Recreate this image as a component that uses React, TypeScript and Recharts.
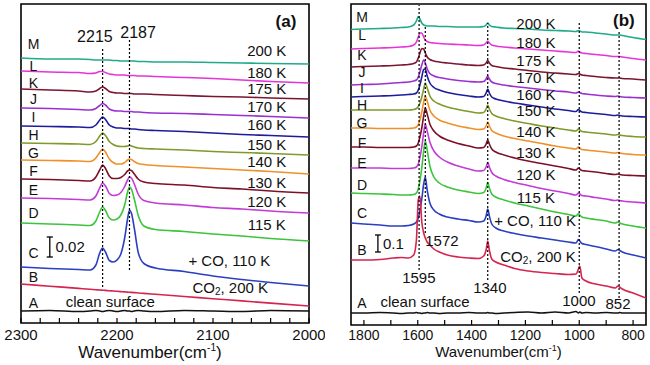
import {
  LineChart,
  Line,
  XAxis,
  YAxis,
  ReferenceArea,
  ReferenceLine,
  ReferenceDot,
} from "recharts";

const FONT = '"Liberation Sans", Arial, sans-serif';

// wavenumber grids (cm-1), left to right as drawn
const wnA = [2300, 2270, 2240, 2228, 2222, 2218, 2215, 2212, 2208, 2204, 2200, 2196, 2192, 2189, 2187, 2185, 2182, 2178, 2172, 2160, 2130, 2100, 2070, 2040, 2000];
const wnB = [1848, 1800, 1740, 1690, 1660, 1635, 1615, 1605, 1598, 1592, 1585, 1578, 1572, 1565, 1555, 1540, 1520, 1490, 1450, 1410, 1375, 1355, 1346, 1340, 1334, 1325, 1310, 1280, 1240, 1190, 1140, 1090, 1040, 1012, 1003, 998, 990, 975, 940, 900, 866, 856, 850, 840, 800, 752];

// panel (a): absorbance incl. stacking offset, in mAbs
const aM = [265, 264, 264, 263.5, 263, 263, 263, 263, 263, 262.5, 262.5, 262, 262, 262, 262, 262, 262, 261.5, 261.5, 261, 261, 260.5, 260, 259.5, 259];
const aL = [252, 251, 250.5, 249.5, 250, 251.5, 251.5, 250.5, 249, 248.5, 248, 248, 248, 247.5, 247.5, 247.5, 247.5, 247, 247, 246.5, 245.5, 244.5, 243, 241.5, 240];
const aK = [234, 233, 232, 231, 232, 234.5, 236, 234.5, 231.5, 230.5, 230, 230, 229.5, 229.5, 229.5, 229.5, 229, 229, 229, 228.5, 227.5, 226.5, 226, 225, 224];
const aJ = [215, 214.5, 213.5, 213, 214.5, 217.5, 219.5, 218, 214, 212.5, 212, 212, 211.5, 211.5, 211.5, 211.5, 211, 211, 210.5, 210, 209.5, 208.5, 207.5, 206.5, 205];
const aI = [197, 196.5, 196, 195.5, 198, 203, 206, 203.5, 198, 196, 195, 195, 194.5, 194.5, 194.5, 194, 194, 193.5, 193, 192.5, 191.5, 190, 188.5, 187.5, 186];
const aH = [180, 179.5, 179, 178.5, 181.5, 187, 190, 187.5, 181.5, 178.5, 177, 176.5, 176.5, 177, 177.5, 177, 176, 175, 174.5, 174, 173, 171.5, 170.5, 169.5, 168];
const aG = [163, 162.5, 162, 161.5, 165, 170.5, 174, 171, 164, 160.5, 159, 159, 160.5, 163, 164, 163.5, 161.5, 159.5, 158.5, 157.5, 156, 154.5, 153, 151.5, 149];
const aF = [144, 143.5, 142.5, 142, 146, 153, 158, 154.5, 147, 144.5, 144.5, 145.5, 148.5, 152, 153, 152.5, 149, 144, 141, 139.5, 138, 135.5, 134, 132, 130];
const aE = [125, 124.5, 123.5, 123, 127, 135, 140, 137, 129.5, 127.5, 128, 130.5, 136.5, 143, 146, 145, 139, 129, 122.5, 120, 118, 115.5, 114, 112, 110];
const aD = [100, 99, 98, 97.5, 102, 111, 116, 112.5, 105, 103, 104, 108, 118, 131, 136, 134, 124, 108, 97, 93.5, 91.5, 89, 87, 84.5, 82];
const aC = [56, 54.5, 53.5, 53, 58, 70, 75, 71, 62.5, 61, 63, 69, 85, 104, 113, 110, 95, 71, 59.5, 55, 51.5, 47, 43.5, 40.5, 37];
const aB = [39, 36.8, 34.6, 33.7, 33.3, 33, 32.8, 32.6, 32.2, 32, 31.7, 31.4, 31.1, 30.9, 30.7, 30.6, 30.4, 30, 29.6, 28.7, 26.5, 24.3, 22.1, 19.9, 17];
const aA = [12, 12.5, 11.5, 12, 12.5, 12, 11.5, 12, 12.5, 12, 11.5, 12, 12.5, 12, 12, 11.5, 12, 12.5, 12, 11.5, 12.5, 12, 11.5, 12.5, 12];

// panel (b): absorbance incl. offset, 1 unit = 0.1/17
const bM = [295.5, 296, 296.5, 297, 297.5, 298, 300, 304, 308.5, 306, 302, 300, 299.5, 299, 299, 299, 298.5, 298.5, 298, 298, 298, 298.5, 300, 302, 300, 298.5, 298, 297, 296.5, 296, 295, 294.5, 294, 293.5, 294.5, 294, 293, 293, 292, 291, 290, 290, 290, 289.5, 287.5, 285.5];
const bL = [276, 276.5, 277, 277.5, 278, 278.5, 280, 283, 288, 292, 292, 288, 285, 283.5, 282.5, 282, 281.5, 281, 280.5, 280, 279.5, 280, 282, 284, 282, 280, 279, 278, 277, 276, 275, 274, 273, 272.5, 274, 273, 272, 271.5, 270.5, 269.5, 268.5, 268.5, 268.5, 268, 266.5, 265];
const bK = [258, 258.5, 259, 259.5, 260, 260.5, 261.5, 263, 267, 272, 276.5, 276, 272, 268, 265.5, 264, 263, 262, 261, 260, 259.5, 260, 262, 264.5, 262, 259.5, 258.5, 257, 256, 254.5, 253, 252, 251, 250.5, 251.5, 251, 250, 249.5, 248.5, 247.5, 247, 247, 247, 246.5, 246, 245];
const bJ = [240, 240.5, 241, 242, 242.5, 243, 244, 245, 248, 253, 260, 265, 262, 256, 251.5, 249, 247.5, 246, 244.5, 243.5, 243, 243.5, 246, 249, 246, 243, 241.5, 240, 238.5, 237, 235.5, 234, 233, 232, 233, 232.5, 231.5, 231, 230, 229, 228.5, 229, 228.5, 228, 227.5, 227];
const bI = [228, 228.5, 229, 229.5, 230, 230.5, 231, 232, 235, 240, 248, 255.5, 256, 249, 242, 237.5, 235, 232.5, 230.5, 229, 228, 228.5, 232, 236, 232, 228, 226, 224, 222, 220, 218, 216, 214.5, 213.5, 215.5, 214.5, 213, 212.5, 211.5, 210.5, 209.5, 210, 209.5, 209, 208.5, 208];
const bH = [215, 215, 215, 215, 215, 215, 215.5, 216.5, 218.5, 222, 228, 236, 242, 237, 229, 224, 221, 218, 215.5, 213.5, 212, 212.5, 216, 220, 216, 211.5, 209, 206.5, 204, 201.5, 199, 197, 195, 194, 196, 195, 193.5, 193, 192, 191, 190, 190.5, 190, 189.5, 188.5, 188];
const bG = [197, 197, 196.5, 196.5, 196.5, 196.5, 197, 198, 200.5, 205, 213, 223, 229, 224, 215, 209, 205, 202, 199, 197, 195.5, 196, 199, 203, 199, 194.5, 192, 189, 186.5, 184, 181.5, 179, 177, 176, 178, 177, 175.5, 175, 174, 173, 172, 172.5, 172, 171.5, 170.5, 170];
const bF = [178, 178, 177.5, 177.5, 177.5, 177.5, 178, 179, 182, 188, 197, 209, 217, 211, 201, 194, 189, 185, 181.5, 179, 177, 177.5, 181, 185, 181, 176, 173, 170, 167, 164, 161.5, 159, 156.5, 155, 157, 156, 154.5, 154, 153, 151.5, 150.5, 151, 150.5, 150, 149.5, 149];
const bE = [157, 157, 157, 156.5, 156.5, 156.5, 157, 158, 161, 167.5, 178, 192, 201, 194, 183, 174, 168, 163, 159, 156, 154, 154.5, 158, 162.5, 158, 152.5, 149, 145.5, 142.5, 139.5, 136.5, 134, 131.5, 130, 132, 131, 129.5, 129, 127.5, 126, 124.5, 125, 124.5, 124, 123, 122];
const bD = [132, 131.5, 131, 130.5, 130, 130, 130.5, 132, 136, 144, 157, 174, 184, 175, 159, 148, 142, 138, 135, 133, 131.5, 132.5, 137, 142.5, 137, 131, 128, 125, 122, 119, 116, 113, 110.5, 109, 111.5, 110, 108, 107, 105.5, 104, 102, 103, 102, 101, 99, 97];
const bC = [102, 101, 100, 99, 99, 99.5, 101, 103, 107, 114, 126, 141, 148, 135, 122, 115, 111, 108, 106, 104.5, 103, 104, 109, 116, 109, 101, 97, 94, 91.5, 89, 87, 85, 83, 82, 85.5, 84, 81.5, 80.5, 78.5, 76, 74, 75.5, 74.5, 73, 70, 67];
const bB = [65, 65, 65.5, 67, 67.5, 67, 70, 85, 125, 129, 103, 92, 87, 83, 80, 76, 73, 70, 68, 67, 66.5, 69, 75, 84, 75, 66, 63, 60, 56.5, 54, 52.5, 51.5, 50.5, 51, 56, 59, 47, 44, 41, 39, 37, 39, 38, 36, 32, 27];
const bA = [12, 12, 12.5, 12, 11.5, 12, 12, 12.5, 12, 12, 11.5, 12, 12, 12.5, 12, 12, 11.5, 12, 12, 12.5, 12, 12, 12, 12.5, 12, 12, 11.5, 12, 12.5, 13, 12, 13, 12, 13.5, 12, 13, 12, 12.5, 12, 12.5, 12, 12, 12.5, 12, 12, 12];

const letters = ["M", "L", "K", "J", "I", "H", "G", "F", "E", "D", "C", "B", "A"];
const temps = ["200 K", "180 K", "175 K", "170 K", "160 K", "150 K", "140 K", "130 K", "120 K", "115 K"];

const curves = [
  { key: "M", color: "#20a98a", a: aM, b: bM },
  { key: "L", color: "#e535d8", a: aL, b: bL },
  { key: "K", color: "#7b1530", a: aK, b: bK },
  { key: "J", color: "#9b30d0", a: aJ, b: bJ },
  { key: "I", color: "#1c1c9c", a: aI, b: bI },
  { key: "H", color: "#7f9a2a", a: aH, b: bH },
  { key: "G", color: "#f0902a", a: aG, b: bG },
  { key: "F", color: "#7d1028", a: aF, b: bF },
  { key: "E", color: "#c23bd6", a: aE, b: bE },
  { key: "D", color: "#3cc43c", a: aD, b: bD },
  { key: "C", color: "#2a3fc2", a: aC, b: bC },
  { key: "B", color: "#d5244f", a: aB, b: bB },
  { key: "A", color: "#111111", a: aA, b: bA },
];

const rowsA = wnA.map((w, i) => {
  const row: Record<string, number> = { w };
  curves.forEach((c) => (row[c.key] = c.a[i]));
  return row;
});
const rowsB = wnB.map((w, i) => {
  const row: Record<string, number> = { w };
  curves.forEach((c) => (row[c.key] = c.b[i]));
  return row;
});

type Note = { x: number; y: number; text: string; anchor?: "start" | "middle" | "end"; bold?: boolean; size?: number };

// annotation placement, in data coordinates
const letterYA = [279, 257, 240, 224, 206, 188, 170, 152, 133, 110, 70, 46, 20];
const tempYA = [273, 251, 235, 217, 199, 179, 162, 141, 122, 99];
const letterYB = [308, 290, 270, 253, 237, 220, 202, 182, 162, 140, 112, 75, 22];
const tempYB = [302, 283, 265, 248, 231, 215, 194, 173, 151, 128];

const notesA: Note[] = [
  ...letters.map((t, i) => ({ x: 2287, y: letterYA[i], text: t, size: 14 })),
  ...temps.map((t, i) => ({ x: 2044, y: tempYA[i], text: t })),
  { x: 2083, y: 63, text: "+ CO, 110 K" },
  { x: 2082, y: 36, text: "CO2, 200 K" },
  { x: 2207, y: 22, text: "clean surface" },
  { x: 2223, y: 287, text: "2215", size: 16 },
  { x: 2178, y: 291, text: "2187", size: 16 },
  { x: 2024, y: 302, text: "(a)", bold: true, size: 17 },
  { x: 2264, y: 77, text: "0.02", anchor: "start" },
];

const notesB: Note[] = [
  ...letters.map((t, i) => ({ x: 1807, y: letterYB[i], text: t, size: 14 })),
  ...temps.map((t, i) => ({ x: 1161, y: tempYB[i], text: t })),
  { x: 1164, y: 105, text: "+ CO, 110 K" },
  { x: 1153, y: 69, text: "CO2, 200 K" },
  { x: 1573, y: 24, text: "clean surface" },
  { x: 1510, y: 85, text: "1572" },
  { x: 1596, y: 48, text: "1595" },
  { x: 1332, y: 38, text: "1340" },
  { x: 1001, y: 25, text: "1000" },
  { x: 856, y: 22, text: "852" },
  { x: 834, y: 305, text: "(b)", bold: true, size: 17 },
  { x: 1729, y: 82, text: "0.1", anchor: "start" },
];

const dashedA = [
  { x: 2215, y1: 36, y2: 275 },
  { x: 2187, y1: 53, y2: 283 },
];
const dashedB = [
  { x: 1595, y1: 55, y2: 320 },
  { x: 1572, y1: 92, y2: 299 },
  { x: 1340, y1: 45, y2: 302 },
  { x: 1000, y1: 32, y2: 302 },
  { x: 852, y1: 27, y2: 293 },
];

const ticksA = [2300, 2280, 2260, 2240, 2220, 2200, 2180, 2160, 2140, 2120, 2100, 2080, 2060, 2040, 2020, 2000];
const ticksB = [1800, 1700, 1600, 1500, 1400, 1300, 1200, 1100, 1000, 900, 800];

function noteShape(n: Note) {
  return (p: any) => (
    <text
      x={p.cx}
      y={p.cy}
      textAnchor={n.anchor ?? "middle"}
      dominantBaseline="central"
      fontSize={n.size ?? 15}
      fontWeight={n.bold ? 700 : 400}
      fill="#111"
      fontFamily={FONT}
    >
      {n.text.startsWith("CO2") ? (
        <>
          CO<tspan dy={4} fontSize={10}>2</tspan>
          <tspan dy={-4}>, 200 K</tspan>
        </>
      ) : (
        n.text
      )}
    </text>
  );
}

function XTitle({ viewBox, size, shift, down }: any) {
  const { x, y, width } = viewBox;
  return (
    <text x={x + width / 2 + shift} y={y + down} textAnchor="middle" fontSize={size} fill="#111" fontFamily={FONT}>
      Wavenumber(cm
      <tspan dy={-size * 0.4} fontSize={size * 0.6}>-1</tspan>
      <tspan dy={size * 0.4}>)</tspan>
    </text>
  );
}

function YTitle({ viewBox, gap, shift }: any) {
  const cx = viewBox.x - gap;
  const cy = viewBox.y + viewBox.height / 2 + shift;
  return (
    <text
      x={cx}
      y={cy}
      transform={`rotate(-90 ${cx} ${cy})`}
      textAnchor="middle"
      dominantBaseline="central"
      fontSize={16}
      fill="#111"
      fontFamily={FONT}
    >
      Absorbance
    </text>
  );
}

type PanelProps = {
  rows: Record<string, number>[];
  xDomain: [number, number];
  yTop: number;
  ticks: number[];
  labelEvery: number;
  margin: { top: number; right: number; bottom: number; left: number };
  notes: Note[];
  dashed: { x: number; y1: number; y2: number }[];
  bar: { x: number; y1: number; y2: number; cap: number };
  tickFont: number;
  tickMargin: number;
  title: { size: number; shift: number; down: number };
  yTitle: { gap: number; shift: number };
};

function Panel(p: PanelProps) {
  const { bar } = p;
  return (
    <LineChart width={325} height={365} data={p.rows} margin={p.margin}>
      <XAxis
        dataKey="w"
        type="number"
        domain={p.xDomain}
        reversed
        allowDataOverflow
        ticks={p.ticks}
        interval={0}
        tickFormatter={(v: number) => (v % p.labelEvery === 0 ? String(v) : "")}
        tickSize={-5}
        tickMargin={p.tickMargin}
        axisLine={false}
        tickLine={{ stroke: "#000", strokeWidth: 1.2 }}
        tick={{ fontSize: p.tickFont, fill: "#111", fontFamily: FONT }}
        height={30}
        label={<XTitle {...p.title} />}
      />
      <YAxis
        type="number"
        domain={[0, p.yTop]}
        allowDataOverflow
        width={0}
        tick={false}
        axisLine={false}
        tickLine={false}
        label={<YTitle {...p.yTitle} />}
      />
      {curves.map((c) => (
        <Line
          key={c.key}
          dataKey={c.key}
          type="monotone"
          stroke={c.color}
          strokeWidth={1.6}
          dot={false}
          isAnimationActive={false}
        />
      ))}
      {p.dashed.map((d) => (
        <ReferenceLine
          key={d.x}
          segment={[{ x: d.x, y: d.y1 }, { x: d.x, y: d.y2 }]}
          stroke="#000"
          strokeWidth={1.2}
          strokeDasharray="2 2"
          ifOverflow="visible"
        />
      ))}
      <ReferenceLine segment={[{ x: bar.x, y: bar.y1 }, { x: bar.x, y: bar.y2 }]} stroke="#000" strokeWidth={1.3} ifOverflow="visible" />
      <ReferenceLine segment={[{ x: bar.x - bar.cap, y: bar.y1 }, { x: bar.x + bar.cap, y: bar.y1 }]} stroke="#000" strokeWidth={1.3} ifOverflow="visible" />
      <ReferenceLine segment={[{ x: bar.x - bar.cap, y: bar.y2 }, { x: bar.x + bar.cap, y: bar.y2 }]} stroke="#000" strokeWidth={1.3} ifOverflow="visible" />
      {p.notes.map((n, i) => (
        <ReferenceDot key={i} x={n.x} y={n.y} r={0} ifOverflow="visible" shape={noteShape(n)} />
      ))}
      <ReferenceArea
        x1={p.xDomain[0]}
        x2={p.xDomain[1]}
        y1={0}
        y2={p.yTop}
        fill="none"
        stroke="#000"
        strokeWidth={1.6}
        ifOverflow="visible"
      />
    </LineChart>
  );
}

export default function App() {
  return (
    <div style={{ display: "flex", width: 650, height: 365, background: "#fff", fontFamily: FONT }}>
      <style>{"body{margin:0}"}</style>
      <Panel
        rows={rowsA}
        xDomain={[2000, 2300]}
        yTop={319}
        ticks={ticksA}
        labelEvery={100}
        margin={{ top: 4, right: 16, bottom: 12, left: 21 }}
        notes={notesA}
        dashed={dashedA}
        bar={{ x: 2270, y1: 66, y2: 86, cap: 3.2 }}
        tickFont={15}
        tickMargin={11}
        title={{ size: 17, shift: -15, down: 35 }}
        yTitle={{ gap: 11, shift: -5 }}
      />
      <Panel
        rows={rowsB}
        xDomain={[752, 1848]}
        yTop={321}
        ticks={ticksB}
        labelEvery={200}
        margin={{ top: 4, right: 4, bottom: 10, left: 26 }}
        notes={notesB}
        dashed={dashedB}
        bar={{ x: 1748, y1: 73, y2: 90, cap: 11 }}
        tickFont={14}
        tickMargin={10}
        title={{ size: 15, shift: 0, down: 32 }}
        yTitle={{ gap: 14, shift: -9 }}
      />
    </div>
  );
}
